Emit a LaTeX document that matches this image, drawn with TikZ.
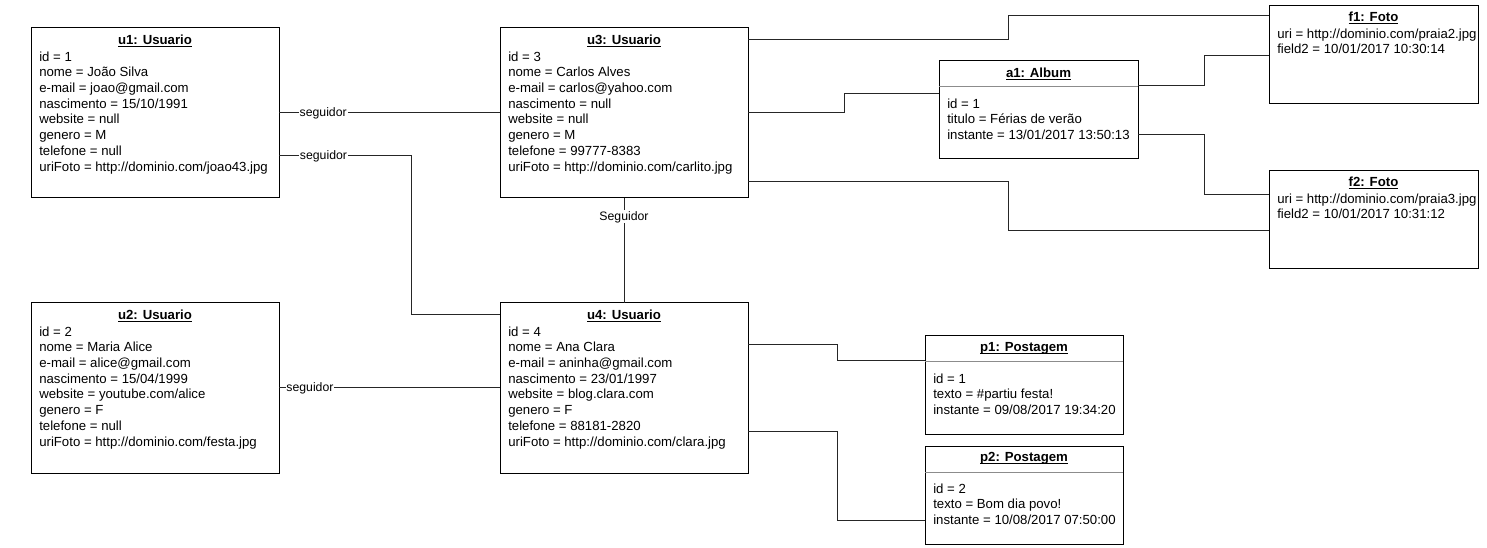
\documentclass[tikz,border=0pt]{standalone}
\usepackage{fontspec}
\setmainfont{Liberation Sans}
\usetikzlibrary{calc}

% bold underlined object name
\newcommand{\objname}[1]{\setbox0\hbox{\bfseries #1}\copy0\llap{\rule[-1.6pt]{\wd0}{0.6pt}}}

\tikzset{
  obj/.style={draw, line width=0.75pt, anchor=north west, inner sep=0pt, outer sep=0pt},
  objtitle/.style={anchor=base, inner sep=0pt, font=\fontsize{9.9}{11.8}\selectfont},
  attrs/.style={anchor=north west, align=left, inner sep=0pt, font=\fontsize{9.9}{11.8}\selectfont},
  sepline/.style={draw=black!45, line width=0.75pt},
  conn/.style={draw=black!85, line width=0.75pt},
  lbl/.style={fill=white, inner sep=0.6pt, font=\fontsize{9.2}{11}\selectfont}
}

\begin{document}
\begin{tikzpicture}[x=0.75pt, y=-0.75pt]
    \useasboundingbox (0,0) rectangle (1487,548);

    % Usuarios
    \node[obj, minimum width=186pt, minimum height=127.5pt] (u1) at (31,28) {};
    \node[objtitle] at ($(u1.north)+(0,16.7)$) {\objname{u1: Usuario}};
    \node[attrs] at ($(u1.north west)+(8,23.2)$) {id = 1\\nome = João Silva\\e-mail = joao@gmail.com\\nascimento = 15/10/1991\\website = null\\genero = M\\telefone = null\\uriFoto = http://dominio.com/joao43.jpg};

    \node[obj, minimum width=186pt, minimum height=127.5pt] (u3) at (500,28) {};
    \node[objtitle] at ($(u3.north)+(0,16.7)$) {\objname{u3: Usuario}};
    \node[attrs] at ($(u3.north west)+(8,23.2)$) {id = 3\\nome = Carlos Alves\\e-mail = carlos@yahoo.com\\nascimento = null\\website = null\\genero = M\\telefone = 99777-8383\\uriFoto = http://dominio.com/carlito.jpg};

    \node[obj, minimum width=186pt, minimum height=127.5pt] (u2) at (31,303) {};
    \node[objtitle] at ($(u2.north)+(0,16.7)$) {\objname{u2: Usuario}};
    \node[attrs] at ($(u2.north west)+(8,23.2)$) {id = 2\\nome = Maria Alice\\e-mail = alice@gmail.com\\nascimento = 15/04/1999\\website = youtube.com/alice\\genero = F\\telefone = null\\uriFoto = http://dominio.com/festa.jpg};

    \node[obj, minimum width=186pt, minimum height=127.5pt] (u4) at (500,303) {};
    \node[objtitle] at ($(u4.north)+(0,16.7)$) {\objname{u4: Usuario}};
    \node[attrs] at ($(u4.north west)+(8,23.2)$) {id = 4\\nome = Ana Clara\\e-mail = aninha@gmail.com\\nascimento = 23/01/1997\\website = blog.clara.com\\genero = F\\telefone = 88181-2820\\uriFoto = http://dominio.com/clara.jpg};

    % Album
    \node[obj, minimum width=149.25pt, minimum height=73.5pt] (a1) at (939,61) {};
    \node[objtitle] at ($(a1.north)+(0,16.7)$) {\objname{a1: Album}};
    \draw[sepline] ($(a1.north west)+(0,26)$) -- ($(a1.north east)+(0,26)$);
    \node[attrs] at ($(a1.north west)+(8,37.2)$) {id = 1\\titulo = Férias de verão\\instante = 13/01/2017 13:50:13};

    % Fotos
    \node[obj, minimum width=156.75pt, minimum height=73.5pt] (f1) at (1269,6) {};
    \node[objtitle] at ($(f1.north)+(0,15.7)$) {\objname{f1: Foto}};
    \node[attrs] at ($(f1.north west)+(8,22.2)$) {uri = http://dominio.com/praia2.jpg\\field2 = 10/01/2017 10:30:14};

    \node[obj, minimum width=156.75pt, minimum height=73.5pt] (f2) at (1269,171) {};
    \node[objtitle] at ($(f2.north)+(0,15.7)$) {\objname{f2: Foto}};
    \node[attrs] at ($(f2.north west)+(8,22.2)$) {uri = http://dominio.com/praia3.jpg\\field2 = 10/01/2017 10:31:12};

    % Postagens
    \node[obj, minimum width=148.5pt, minimum height=73.5pt] (p1) at (925,336) {};
    \node[objtitle] at ($(p1.north)+(0,15.7)$) {\objname{p1: Postagem}};
    \draw[sepline] ($(p1.north west)+(0,26)$) -- ($(p1.north east)+(0,26)$);
    \node[attrs] at ($(p1.north west)+(8,37.2)$) {id = 1\\texto = \#partiu festa!\\instante = 09/08/2017 19:34:20};

    \node[obj, minimum width=148.5pt, minimum height=73.5pt] (p2) at (925,446) {};
    \node[objtitle] at ($(p2.north)+(0,15.7)$) {\objname{p2: Postagem}};
    \draw[sepline] ($(p2.north west)+(0,26)$) -- ($(p2.north east)+(0,26)$);
    \node[attrs] at ($(p2.north west)+(8,37.2)$) {id = 2\\texto = Bom dia povo!\\instante = 10/08/2017 07:50:00};

    % seguidores
    \draw[conn] (u1.east) -- node[lbl, pos=0.2] {seguidor} (u3.west);
    \draw[conn] ($(u1.north east)+(0,128)$) -- node[lbl, pos=0.337] {seguidor} ++(132,0) |- ($(u4.north west)+(0,12)$);
    \draw[conn] (u2.east) -- node[lbl, pos=0.14] {seguidor} (u4.west);
    \draw[conn] (u3.south) -- node[lbl, pos=0.18] {Seguidor} (u4.north);

    % u3 com album e fotos
    \draw[conn] ($(u3.north east)+(0,12)$) -- ++(260,0) |- ($(f1.north west)+(0,10)$);
    \draw[conn] (u3.east) -- ++(96,0) |- ($(a1.north west)+(0,33)$);
    \draw[conn] ($(u3.north east)+(0,154)$) -- ++(260,0) |- ($(f2.north west)+(0,60)$);

    % album com fotos
    \draw[conn] ($(a1.north east)+(0,25)$) -- ++(66,0) |- ($(f1.north west)+(0,50)$);
    \draw[conn] ($(a1.north east)+(0,74)$) -- ++(66,0) |- ($(f2.north west)+(0,24)$);

    % u4 com postagens
    \draw[conn] ($(u4.north east)+(0,42)$) -- ++(89,0) |- ($(p1.north west)+(0,25)$);
    \draw[conn] ($(u4.north east)+(0,128)$) -- ++(89,0) |- ($(p2.north west)+(0,74)$);
  \end{tikzpicture}
\end{document}
